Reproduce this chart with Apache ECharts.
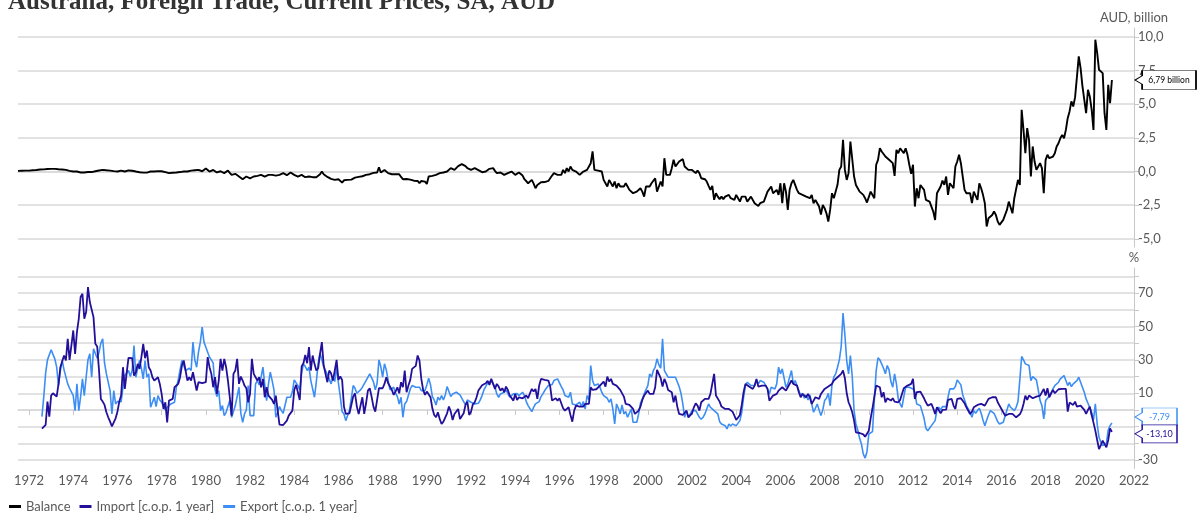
<!DOCTYPE html>
<html><head><meta charset="utf-8">
<script src="https://cdn.jsdelivr.net/npm/echarts@6/dist/echarts.min.js"></script>
<style>html,body{margin:0;padding:0;background:#fff}#c{width:1201px;height:514px}</style>
</head><body><div id="c"></div>
<script>
// ---- DATA (monthly) ----
const balanceStart = [1971, 7];   // Jul 1971
const tradeStart = [1972, 8];     // Aug 1972
// Balance, AUD billion
const balance = [
 0.05,0.04,0.06,0.05,0.07,0.06,
 0.07,0.09,0.1,0.12,0.11,0.14,0.15,0.17,0.16,0.18,0.19,0.2,
 0.2,0.19,0.2,0.18,0.17,0.17,0.15,0.14,0.12,0.1,0.05,0.02,
 0,-0.02,0,-0.05,-0.07,-0.06,-0.07,-0.05,-0.04,-0.07,-0.04,0.02,
 0.02,0.05,0.08,0.1,0.12,0.1,0.09,0.07,0.07,0.05,0.03,0.01,
 0,0.04,0.07,0.03,0,0.05,0.08,0.12,0.06,0.03,0,0.02,
 -0.05,-0.12,-0.08,-0.05,-0.08,-0.05,0,0.03,0,0.07,0.03,0.07,
 0.02,-0.07,-0.05,-0.09,-0.12,-0.1,-0.09,-0.07,-0.07,-0.05,-0.04,-0.02,
 0,-0.02,0,0.04,0.07,0.05,0.1,0.17,0.12,0.08,0.02,0.1,
 0.22,0.1,0,0.05,0.12,0.08,-0.07,-0.02,0.02,-0.02,-0.12,-0.03,
 0.07,-0.1,-0.25,-0.2,-0.17,-0.25,-0.37,-0.45,-0.57,-0.5,-0.37,-0.42,
 -0.5,-0.43,-0.37,-0.35,-0.32,-0.28,-0.25,-0.3,-0.37,-0.3,-0.25,-0.17,
 -0.25,-0.32,-0.3,-0.28,-0.25,-0.2,-0.12,-0.2,-0.27,-0.2,-0.07,-0.15,
 -0.25,-0.3,-0.37,-0.3,-0.25,-0.32,-0.42,-0.4,-0.37,-0.4,-0.42,-0.4,
 -0.42,-0.37,-0.2,0,-0.2,-0.32,-0.4,-0.5,-0.55,-0.6,-0.62,-0.6,
 -0.57,-0.6,-0.82,-0.65,-0.57,-0.62,-0.67,-0.6,-0.5,-0.45,-0.37,-0.4,
 -0.42,-0.35,-0.33,-0.25,-0.22,-0.2,-0.15,-0.1,0,-0.07,0.32,-0.07,
 -0.07,0.12,0.05,-0.12,-0.15,-0.2,-0.25,-0.2,-0.12,-0.2,-0.4,-0.57,
 -0.62,-0.55,-0.5,-0.6,-0.74,-0.68,-0.62,-0.7,-0.87,-0.7,-0.62,-0.75,
 -0.92,-0.37,-0.35,-0.32,-0.3,-0.25,-0.2,-0.12,-0.1,-0.07,-0.05,0,
 0.1,0.25,0.37,0.12,0.25,0.4,0.5,0.55,0.62,0.4,0.25,0.15,
 0.12,0.2,0.25,0.2,0.1,0,-0.05,-0.12,0,0.12,0.2,0.25,
 0.25,0.05,-0.12,-0.1,-0.07,-0.15,-0.25,-0.18,-0.12,-0.05,0,-0.12,
 -0.25,-0.15,-0.07,-0.2,-0.3,-0.57,-0.7,-0.87,-0.75,-0.62,-0.9,-1.24,
 -1.0,-0.87,-0.8,-0.74,-0.78,-0.82,-0.7,-0.5,-0.3,-0.12,-0.2,-0.25,
 -0.2,-0.25,0.12,-0.12,0.25,0,0.37,0.12,0,0,-0.07,-0.25,
 -0.12,0,0.12,0.12,0,0.62,1.49,0.12,0.17,0.07,0.12,0,
 -0.62,-0.74,-1.11,-0.62,-0.74,-1.11,-0.74,-1.24,-0.87,-1.11,-1.24,-1.11,
 -0.87,-1.11,-1.36,-1.49,-1.61,-1.73,-1.49,-1.36,-1.24,-1.49,-1.86,-1.11,
 -1.24,-1.11,-0.87,-0.74,-0.5,-1.49,-1.36,-0.74,-1.11,0.99,-0.25,-0.37,
 -0.25,0.25,0.87,0.37,0.5,0.74,0.87,0.92,0.37,0.5,0.12,0,
 0.12,0,-0.12,0.07,-0.12,-0.5,-0.62,-0.57,-0.74,-1.06,-1.36,-1.06,
 -2.1,-1.61,-1.86,-2.05,-1.86,-2.05,-1.86,-2.0,-1.73,-1.98,-1.86,-2.1,
 -1.73,-1.98,-2.23,-1.86,-1.98,-1.86,-2.23,-2.35,-1.86,-1.98,-2.35,-2.48,
 -2.55,-2.35,-2.23,-2.23,-1.86,-1.49,-1.36,-1.11,-1.61,-1.49,-1.36,-1.73,
 -0.87,-2.35,-0.87,-1.49,-2.85,-1.36,-0.87,-0.62,-0.99,-1.36,-1.61,-1.49,
 -1.73,-1.61,-1.86,-1.73,-1.98,-1.73,-2.35,-2.1,-2.35,-2.6,-3.2,-2.48,
 -2.72,-3.1,-3.71,-2.85,-1.61,-1.98,-1.49,-0.99,0.12,0.37,2.35,0.12,
 -0.62,-0.12,2.23,2.1,-0.37,-1,-1.24,-1.49,-1.61,-1.73,-1.98,-2.3,
 -2.23,-1.49,-1.36,-1.98,0.5,0.87,1.73,1.49,1.36,1.11,0.99,0.87,
 0.74,0.62,-0.32,1.61,1.36,1.73,1.8,1.36,1.73,1.24,0.5,-0.17,
 0.5,-2.6,-1.24,-1.98,-1,-0.99,-1.36,-2.1,-2.23,-2.23,-2.6,-2.97,
 -3.6,-1.61,-1.73,-1.11,-0.67,-0.99,-0.37,-1.73,-0.87,-0.74,-1.24,0.37,
 0.74,1.24,0.62,-0.37,-1.36,-1.61,-1.56,-1.61,-2.35,-1.49,-1.61,-2.1,
 -0.87,-1.24,-1.73,-2.35,-4.08,-3.47,-3.47,-3.22,-2.97,-3.22,-3.71,-3.96,
 -3.96,-3.59,-3.22,-2.85,-2.23,-2.1,-3.1,-1.98,-1.86,-0.62,-0.99,4.58,
 3.09,1.36,3.22,2.35,-0.37,1.86,0.74,0.12,0.37,0.62,0.25,-1.6,
 0.87,1.24,0.99,0.99,1.11,1.36,1.86,2.1,2.47,2.72,2.47,3.09,
 3.96,4.46,5.2,4.83,5.5,7.0,8.54,7.67,6.34,6.2,4.33,6.06,
 5.57,4.6,3.09,9.78,8.8,7.55,7.43,7.3,4.33,3.09,6.44,5.07,
 6.79
];
// Import, % change over 1 year
const importYoY = [
 -11.2,-10.5,-9,5,-4,
 8.6,10,10,8,15.6,25.6,25,32.6,29.6,42.6,30,38.6,
 47.6,33.6,46.6,54.6,67.6,69.6,54.6,58.6,73.6,64.6,64,55.6,
 39.6,38,23.6,6.6,5,3,-1.4,-4.4,-7,-9.8,-9,-5,
 -1,5,8.6,25.6,12.6,22,31.2,30.6,31,20.6,22.6,27.6,
 24.6,31.6,39.6,31,35.6,25.6,23.6,19.6,17.6,18.6,19.6,15.6,
 9.6,0.6,4.6,-7.4,5.6,6.6,6.6,13.6,13.6,15.6,19.6,26.6,
 29.6,29,17.6,19.6,17.6,22.6,21.6,11.6,16.6,15.6,16,15.6,
 16.6,31.6,25.6,21.6,13.6,19.6,9.6,17.6,30.6,23.6,30.6,25.6,
 17.6,7.6,-3.4,21.6,23.6,30.6,15.6,20,17.6,14.6,13,4.6,
 9.6,30.6,21.6,21.6,17.6,19.6,13.6,18.6,7.6,13.6,8.6,7.6,
 6,3.6,8.6,-0.4,-8.8,-9.4,-9,-9.4,-6.4,-3.4,-4,-0.4,
 12,15,15,6,26,28,33,28,37.6,23.6,32.6,27.6,
 23.6,25,33.6,40.6,26.6,26,16.6,23.6,22,17.6,23.6,30,
 18,20,18,2,-2.4,-3.4,-2,3,8,10,2,-2.4,
 -2,7.6,-2.4,4,11.6,13,8,2,-1,6,13,13.6,
 13,15.6,19.6,16,15,12,9,11,13.6,10,16.6,13.6,
 23.6,10.6,14.6,18,24.6,25.2,26.4,32.6,29.6,18.6,12,9,
 11,10,7.6,1,-3,-4.4,-1.4,-5.4,-8.4,-7,-6,-2,
 2,-1,-6,-2.4,-2.4,0.6,-5.4,-6,-2,3,5,-3,
 -1,3.4,4.6,7.6,11.6,12,14.8,15.6,16,17.4,15,18.6,
 15.6,12.6,15.6,14,11.6,13,10.6,14,12,8.6,9.6,5.6,
 9.6,6,7.6,8,7,8,8.6,7,10,12.6,11,12.6,
 6.6,14.6,18.6,17.6,18,17,17.6,14,5.6,6.6,7,5.6,
 7,6,1,-0.4,-1,1.6,-3,-7,-0.4,2.6,2,2,
 2,2,3.6,3,3.6,13.6,12,12,12.4,12,14.6,15.6,
 17,14,20,17,18.6,15.6,16.6,14.6,13.6,12,13,8,
 3.6,4,3,3.6,0.6,-2.4,-2.6,-0.4,2,6,8.6,8.6,
 11.6,9.6,10.6,9.6,13.6,24,23.6,19,14,18.6,16,12,
 12.6,10.6,4.6,8.6,2,-2.4,-3,-3,-2,-0.4,-4.4,-5.4,
 -2,1.6,4,2.6,-0.4,4.6,5.6,6.6,7.6,6.6,9.6,9.6,
 21.6,8.6,7.6,5,2,2.6,0.6,1.6,0.6,1.6,-1,-3.4,
 -6,-5,-3,3,10.6,15.6,15.6,14,14.6,12.6,14.6,18.6,
 14,14.6,14.6,15.6,14.6,12.6,5.6,6.6,8.6,7.6,9.6,11.6,
 11.6,13.6,12.6,11.6,13.6,14.6,17.6,15.6,15,14.6,10.6,7.6,
 9.6,10.6,7.6,9.6,7.6,3.6,5.6,7.6,8.6,6.6,9.6,10.6,
 12.6,12,14,14.6,15.6,17.6,17.6,19.6,18.6,21.6,23.6,19,
 10,4.6,2,-1.4,-6.4,-13.4,-13.6,-13.8,-14.4,-14.6,-16,-17,
 -12.4,-5,1,8,14.6,14.6,13.6,7.6,10.6,4.6,7,6,
 5.6,7,5,5,4.6,6,9.6,13,13.6,14.6,15,15.6,
 18.6,6.6,10.6,10.6,11,10,7,4.6,2.6,2,3.6,1,
 -2.4,1.6,2.6,-2,0,-0.4,0.2,6,5.6,6.6,2.6,0.6,
 6.6,7,7,6,4,1.6,0.6,-2.4,-1,1.6,1.4,3,
 2.6,3.6,4,2.6,3.6,6.6,5.6,7.6,6.6,7.6,4.6,2.6,
 2,-1.4,-3.4,-2.4,-2.4,-3,-2.4,-3,-4.4,-4.6,-2.6,-0.4,
 3.6,8.6,6,8.6,7.6,7,8,8,8.2,8.6,7.6,12.6,
 8.6,13,7.6,10,12,10,11,12.4,11.6,12.6,12.6,12.6,
 -1,4.4,4,3,5,2,3,2.6,2,0,-2.4,0,
 2,-3,-7.6,-12.4,-18,-23.4,-21,-18.4,-18,-22.4,-18,-11,
 -13.1
];
// Export, % change over 1 year
const exportYoY = [
 -4,8,22,30,29.6,
 36,35,30.6,25.6,14.6,23.6,29.6,24,23,15.6,13,12,
 8.6,-0.4,15.6,-0.4,8,18.6,8.6,19.6,30,33.6,19.6,36.6,
 36,31,34.6,40,42.6,28,21.6,20.6,11.6,-2.4,11.6,3.6,
 5,5,5,13.6,20.6,21.6,23.6,20,23.6,38.6,19.6,25,
 29.6,25,18.6,29.6,19.6,21.6,1.6,2.6,7.6,2,8.6,6,
 4.6,2,0,1.6,1.6,3.6,4.6,4.6,13.6,18,24,29.6,
 30.6,23.6,23.6,25,23.6,40.6,30,25.6,34.6,40.6,49.6,40.6,
 37.6,34.6,31.6,30,28,12,8,11.6,-0.4,2.6,-3.4,-1.4,
 -1.4,5.6,-4.4,-4.4,2.6,2,13.6,-2,-7.4,-2.4,0,14.6,
 -3.4,-3.4,-3.4,15.6,17.6,15,19.6,25.6,15,5.6,15.6,22.6,
 17.6,12,-4.4,-1.4,2,-0.4,-2,-1.4,7.6,7.6,7.6,11,
 18,18,14.6,12,22,27.6,26,23.6,25.6,17.6,16.6,7.6,
 17,28,34,33,26,23.6,22.6,18.6,15.6,19.6,17,25.6,
 16,8,-1,-2.4,-6.4,-7,0,7,14.6,13,10,10,
 12,13.6,15.6,17.6,18.6,21.6,22,17,12,16,30,26,
 19.6,27.6,24,17.6,12,11,13.6,10,8,3.6,7.6,-4.4,
 3.6,5,6,12.6,14.6,13.6,13.6,14.6,13.6,11.6,11.6,11.6,
 15,19,15,8,6,3,7.6,6,8.6,6,9,14,
 15,8,9.6,9.6,10.6,10.6,9,8,5,3,6,5,
 4.6,5.6,3.6,4.6,4,6,8.6,12,13,16,15,17.6,
 15.6,13.6,9.6,7.6,9.6,10,10.6,12,12.6,7.6,6.6,9.6,
 8.6,9.8,8.6,9,10.6,8.6,5,2.6,3.6,-1,1.6,3.6,
 4.6,5,8,9.6,11.6,12.6,14.6,15.6,15.2,17.6,17.6,18.6,
 18.6,14,12,8.6,7.6,7.6,10.6,3.6,3.6,3,3,4.6,
 2,5,0.6,8.6,6,26.6,17.6,14.6,14.6,15.6,13.6,10.6,
 8.6,7.6,7,4.6,6.6,0.6,-8.4,3.6,1,-2.4,3,-2.4,
 -1,-4.4,-3.4,0.6,-7.4,-7.4,-7.4,-2.4,4,6.6,9.6,9.6,
 14.6,21.6,19.6,23.6,25.6,30.6,27,25,42.6,23.6,23,19.6,
 19.6,19.6,18.6,19.6,19.6,14,10,3.6,-4.4,-0.4,-4.4,-3.4,
 -0.4,-0.4,-0.4,-2.4,-4.4,-5.6,-4.4,-2.4,-2.4,3.6,1.6,2.6,
 -0.4,-0.4,-2.4,-7,-8.4,-7.4,-9.4,-11.4,-8.4,-9.6,-8.4,-9.4,
 -9.4,-9,-6.4,-1.4,7.6,14.6,16.6,15.6,14.6,14.6,14.6,17.6,
 15.6,17.6,17.6,16.6,15.6,12.6,9.6,13.6,13.6,12.6,15.6,25.6,
 21.6,24.6,23.6,13.6,15.6,16,23.6,15.6,17.6,14.6,13.6,8.6,
 10,7,9,6,9,3.6,-1.4,1,3.6,4.6,-3.4,0,
 5.6,7,10,2.6,15,19.6,21.6,25.6,30,38,58,45,
 29.6,21.6,32.6,20,-0.4,-8.4,-12,-17,-20.4,-26.4,-28.8,-25,
 -14.4,-15,-13,6,23.6,31.2,30,29,25,21.6,26.6,24,
 17,13.6,21.6,15.6,6.6,3.6,1.6,8,13.6,14.6,13.6,14.6,
 12.6,10.6,3.6,2.6,2.6,1.6,-5,-11,-12.4,-11,-9.4,-8.4,
 -6.4,0,1.6,0,2,2.6,2,7.6,12.6,11.6,12.6,14,
 18,17,15,9,6,2.6,1.6,-1.4,-4.4,-0.4,-2,-0.4,
 1,-2,-6,-9.4,-6,-3,-0.4,-1,-2,-3,-7,-8.4,
 -8.4,-7.4,-6.4,0,3.6,1.6,1.6,-0.4,1.6,5,18,32,
 30,27.6,26.6,26.6,17.6,20,21,18,12,5.6,2.6,-5.4,
 5.6,7,7,10,12.6,14.6,15.6,16.6,18.6,19.6,20.6,19.6,
 14.6,16.6,14,15.6,16.6,17.6,19.6,18.6,13.6,10.6,6.6,4,
 3,-1.4,-6,3.6,-8.4,-16.4,-19.4,-21.4,-22,-20,-12,-9.4,
 -7.79
];
const yearTicks = [1972,1974,1976,1978,1980,1982,1984,1986,1988,1990,1992,1994,1996,1998,2000,2002,2004,2006,2008,2010,2012,2014,2016,2018,2020,2022];
const balanceTicks = [-5,-2.5,0,2.5,5,7.5,10];
const pctTicks = [-30,-20,-10,0,10,20,30,40,50,60,70,80];
const pctLabels = [-30,10,30,50,70];
const titleText = 'Australia, Foreign Trade, Current Prices, SA, AUD';
const names = ['Balance', 'Import [c.o.p. 1 year]', 'Export [c.o.p. 1 year]'];

// ---- BUILD ----
function toSeries(start, vals) {
  return vals.map((v, i) => [start[0] + (start[1] - 1 + i) / 12, v]);
}
const comma = (v, d) => v.toFixed(d).replace('.', ',');
const FONT = 'Lato, "Open Sans", sans-serif';
const GREY = '#595959';
const GRID = '#d9d9d9';
const AX = '#c8c8c8';
const C_BAL = '#000000', C_IMP = '#23109a', C_EXP = '#3d8ef4';

function callout(color, text, last, w, h, dy, fs) {
  return {
    silent: true,
    symbol: 'path://M7,0L' + w + ',0L' + w + ',' + h + 'L7,' + h + 'L7,' + (h / 2 + 4) + 'L0,' + (h / 2) + 'L7,' + (h / 2 - 4) + 'Z',
    symbolSize: [w + 1, h + 1],
    symbolOffset: [w / 2 + 1.5, dy],
    itemStyle: { color: '#fff', borderColor: color, borderWidth: 1 },
    label: { show: true, position: 'inside', offset: [3.5, 0], color: color, fontSize: fs, fontFamily: FONT, formatter: text },
    data: [{ coord: [2022, last], value: last }]
  };
}

const chart = echarts.init(document.getElementById('c'), null, { renderer: 'canvas' });
const lastB = balance[balance.length - 1];
const lastI = importYoY[importYoY.length - 1];
const lastE = exportYoY[exportYoY.length - 1];

chart.setOption({
  animation: false,
  backgroundColor: '#fff',
  title: {
    text: titleText, left: 3, top: -15,
    textStyle: { fontFamily: '"Liberation Serif", "Times New Roman", serif', fontWeight: 'bold', fontSize: 25, color: '#333' }
  },
  legend: {
    data: names, left: 4, top: 495, icon: 'rect', itemWidth: 12, itemHeight: 3, itemGap: 9,
    textStyle: { color: GREY, fontSize: 13, fontFamily: FONT }
  },
  grid: [
    { left: 18, right: 67, top: 28, height: 219 },
    { left: 18, right: 67, top: 268, height: 200.4 }
  ],
  xAxis: [
    { gridIndex: 0, type: 'value', min: 1971.5, max: 2022,
      axisLine: { show: true, lineStyle: { color: GRID, width: 1.5 } },
      axisTick: { show: false }, axisLabel: { show: false }, splitLine: { show: false } },
    { gridIndex: 1, type: 'value', min: 1971.5, max: 2022,
      axisLine: { show: true, lineStyle: { color: GRID, width: 1.5 } },
      axisTick: { show: true, customValues: yearTicks, length: 5, lineStyle: { color: AX } },
      axisLabel: { customValues: yearTicks, formatter: v => String(v), color: GREY, fontSize: 13, fontFamily: FONT, margin: 6 },
      splitLine: { show: false } }
  ],
  yAxis: [
    { gridIndex: 0, type: 'value', position: 'right', min: -5.6, max: 10.65,
      name: 'AUD, billion', nameLocation: 'end', nameGap: 4,
      nameTextStyle: { color: GREY, fontSize: 13, fontFamily: FONT },
      axisLine: { show: true, lineStyle: { color: AX } },
      axisTick: { show: true, customValues: balanceTicks, length: 5, lineStyle: { color: AX } },
      axisLabel: { customValues: balanceTicks, formatter: v => comma(v, 1), color: GREY, fontSize: 13, fontFamily: FONT, margin: 4 },
      splitLine: { show: true, lineStyle: { color: GRID, width: 1.5 } } },
    { gridIndex: 1, type: 'value', position: 'right', min: -35, max: 85,
      name: '%', nameLocation: 'end', nameGap: 4,
      nameTextStyle: { color: GREY, fontSize: 13, fontFamily: FONT },
      axisLine: { show: true, lineStyle: { color: AX } },
      axisTick: { show: true, customValues: pctTicks, length: 5, lineStyle: { color: AX } },
      axisLabel: { customValues: pctLabels, formatter: v => String(v), color: GREY, fontSize: 13, fontFamily: FONT, margin: 4 },
      splitLine: { show: true, lineStyle: { color: GRID, width: 1.5 } } }
  ],
  series: [
    { name: names[0], type: 'line', xAxisIndex: 0, yAxisIndex: 0, data: toSeries(balanceStart, balance),
      showSymbol: false, lineStyle: { color: C_BAL, width: 1.9 }, itemStyle: { color: C_BAL }, z: 3,
      markPoint: callout(C_BAL, comma(lastB, 2) + ' billion', lastB, 60, 18, 0, 8.5) },
    { name: names[2], type: 'line', xAxisIndex: 1, yAxisIndex: 1, data: toSeries(tradeStart, exportYoY),
      showSymbol: false, lineStyle: { color: C_EXP, width: 1.6 }, itemStyle: { color: C_EXP }, z: 2,
      markPoint: callout(C_EXP, comma(lastE, 2), lastE, 41, 17, -6, 9) },
    { name: names[1], type: 'line', xAxisIndex: 1, yAxisIndex: 1, data: toSeries(tradeStart, importYoY),
      showSymbol: false, lineStyle: { color: C_IMP, width: 1.8 }, itemStyle: { color: C_IMP }, z: 3,
      markPoint: callout(C_IMP, comma(lastI, 2), lastI, 41, 17, 2, 9) }
  ]
});
</script>
</body></html>
